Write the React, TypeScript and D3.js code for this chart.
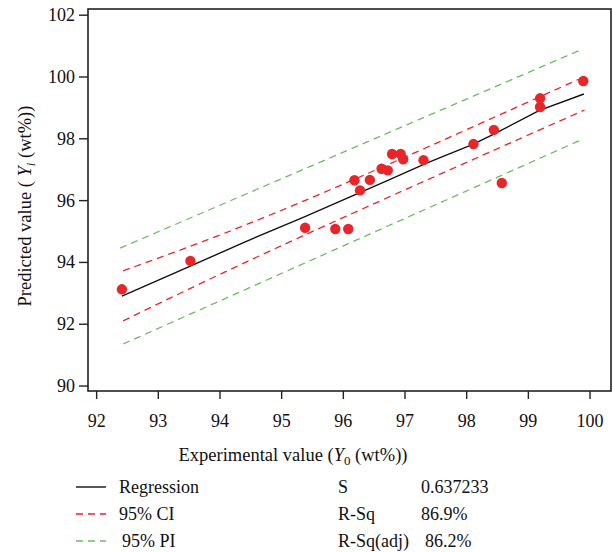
import React from "react";
import * as d3 from "d3";

const W = 613;
const H = 552;

// Observed data (experimental vs predicted, wt%)
const obsX = [92.41, 93.52, 95.38, 95.87, 96.08, 96.18, 96.27, 96.43, 96.62, 96.72, 96.79, 96.93, 96.97, 97.30, 98.11, 98.44, 98.57, 99.19, 99.19, 99.89];
const obsY = [93.13, 94.05, 95.12, 95.08, 95.08, 96.66, 96.33, 96.67, 97.03, 96.98, 97.51, 97.51, 97.34, 97.31, 97.83, 98.29, 96.57, 99.31, 99.03, 99.87];

// Regression (fitted) line
const regX = [92.41, 93.51, 94.40, 95.35, 96.11, 96.75, 97.35, 98.10, 98.44, 99.18, 99.90];
const regY = [92.91, 93.87, 94.66, 95.46, 96.12, 96.68, 97.21, 97.82, 98.15, 98.92, 99.45];

// 95% confidence interval
const ciUpX = [92.43, 95.29, 99.82];
const ciUpY = [93.73, 95.93, 99.93];
const ciLoX = [92.43, 95.29, 99.91];
const ciLoY = [92.11, 94.81, 98.93];

// 95% prediction interval
const piUpX = [92.38, 99.82];
const piUpY = [94.46, 100.85];
const piLoX = [92.43, 99.85];
const piLoY = [91.36, 97.96];

const xTicks = [92, 93, 94, 95, 96, 97, 98, 99, 100];
const yTicks = [90, 92, 94, 96, 98, 100, 102];

const statLabels = ["S", "R-Sq", "R-Sq(adj)"];
const statValues = ["0.637233", "86.9%", "86.2%"];

const RED = "#e8262a";
const GREEN = "#6abf5e";
const FONT = "'Liberation Serif', 'Times New Roman', serif";

export default function App() {
  const left = 88, right = 611, top = 9, bottom = 391;
  const x = d3.scaleLinear().domain([91.86, 100.34]).range([left, right]);
  const y = d3.scaleLinear().domain([89.84, 102.2]).range([bottom, top]);

  const zip = (xs: number[], ys: number[]) => xs.map((v, i) => [v, ys[i]] as [number, number]);
  const line = d3.line<[number, number]>().x(d => x(d[0])).y(d => y(d[1]));
  const smooth = d3.line<[number, number]>().x(d => x(d[0])).y(d => y(d[1])).curve(d3.curveNatural);

  const legendRows = [
    { label: "Regression", color: "#111", dash: undefined as string | undefined, tx: 119 },
    { label: "95% CI", color: RED, dash: "7,5", tx: 119 },
    { label: "95% PI", color: GREEN, dash: "7,5", tx: 122 },
  ];
  const rowY = [487, 514, 541];
  const fs = 18;

  return (
    <svg width={W} height={H} style={{ position: "absolute", left: 0, top: 0, background: "#fff" }} fontFamily={FONT}>
      <rect x={0} y={0} width={W} height={H} fill="#fff" />
      {/* bands */}
      <path d={line(zip(piUpX, piUpY)) || ""} fill="none" stroke={GREEN} strokeWidth={1.3} strokeDasharray="7,5" />
      <path d={line(zip(piLoX, piLoY)) || ""} fill="none" stroke={GREEN} strokeWidth={1.3} strokeDasharray="7,5" />
      <path d={smooth(zip(ciUpX, ciUpY)) || ""} fill="none" stroke={RED} strokeWidth={1.3} strokeDasharray="7,5" />
      <path d={smooth(zip(ciLoX, ciLoY)) || ""} fill="none" stroke={RED} strokeWidth={1.3} strokeDasharray="7,5" />
      <path d={line(zip(regX, regY)) || ""} fill="none" stroke="#111" strokeWidth={1.4} strokeLinejoin="round" />
      {obsX.map((v, i) => (
        <circle key={i} cx={x(v)} cy={y(obsY[i])} r={5.2} fill={RED} />
      ))}
      {/* frame */}
      <rect x={left} y={top} width={right - left} height={bottom - top} fill="none" stroke="#222" strokeWidth={1.6} />
      {/* x ticks */}
      {xTicks.map(t => (
        <g key={"x" + t}>
          <line x1={x(t)} x2={x(t)} y1={bottom} y2={bottom + 8} stroke="#222" strokeWidth={1.4} />
          <text x={x(t)} y={bottom + 36} textAnchor="middle" fontSize={fs} fill="#111">{t}</text>
        </g>
      ))}
      {/* y ticks */}
      {yTicks.map(t => (
        <g key={"y" + t}>
          <line x1={left - 9} x2={left} y1={y(t)} y2={y(t)} stroke="#222" strokeWidth={1.4} />
          <text x={left - 13} y={y(t) + 6} textAnchor="end" fontSize={fs} fill="#111">{t}</text>
        </g>
      ))}
      {/* axis titles */}
      <text x={293} y={461} textAnchor="middle" fontSize={18.5} fill="#111">
        Experimental value (<tspan fontStyle="italic">Y</tspan>
        <tspan fontSize={13} dy={4}>0</tspan>
        <tspan dy={-4}> (wt%))</tspan>
      </text>
      <text transform="translate(31,206) rotate(-90)" textAnchor="middle" fontSize={18.5} fill="#111">
        Predicted value ( <tspan fontStyle="italic">Y</tspan>
        <tspan fontSize={13} dy={4} fontStyle="italic">i</tspan>
        <tspan dy={-4}> (wt%))</tspan>
      </text>
      {/* legend */}
      {legendRows.map((r, i) => (
        <g key={r.label}>
          <line x1={76} x2={106} y1={rowY[i]} y2={rowY[i]} stroke={r.color} strokeWidth={1.4} strokeDasharray={r.dash} />
          <text x={r.tx} y={rowY[i] + 6} fontSize={fs} fill="#111">{r.label}</text>
        </g>
      ))}
      {statLabels.map((s, i) => (
        <g key={s}>
          <text x={338} y={rowY[i] + 6} fontSize={fs} fill="#111">{s}</text>
          <text x={i === 2 ? 425 : 421} y={rowY[i] + 6} fontSize={fs} fill="#111">{statValues[i]}</text>
        </g>
      ))}
    </svg>
  );
}
